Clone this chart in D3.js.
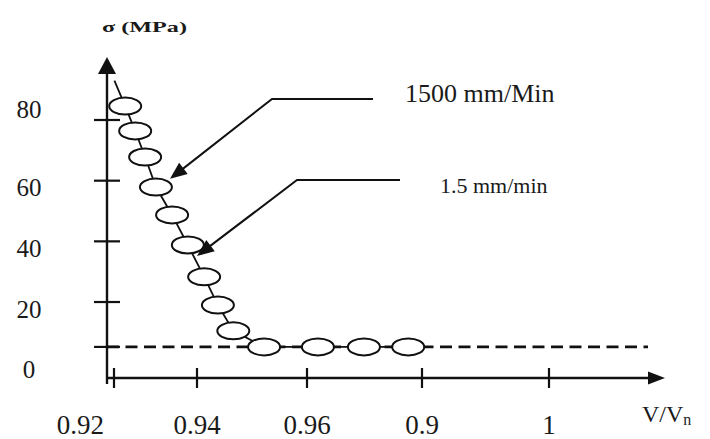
<!DOCTYPE html>
<html>
<head>
<meta charset="utf-8">
<script src="https://cdn.jsdelivr.net/npm/d3@7/dist/d3.min.js"></script>
<style>
  html, body { margin: 0; padding: 0; background: #fff; }
  svg { display: block; }
  text { font-family: "Liberation Serif", "Times New Roman", serif; fill: #1a1a1a; }
</style>
</head>
<body>
<svg id="chart" width="710" height="439"></svg>
<script>
// ---------------- data ----------------
const xTickValues = [0.92, 0.94, 0.96, 0.98, 1.0];
const xTickLabels = ["0.92", "0.94", "0.96", "0.9", "1"];
const yTickValues = [80, 60, 40, 20];
const yLabelValues = [80, 60, 40, 20, 0];

// relative volume V/V0 and stress sigma (MPa) for each marker
const vRatio = [0.9227, 0.9251, 0.9275, 0.9301, 0.9340, 0.9378, 0.9413, 0.9438, 0.9466, 0.9522, 0.9619, 0.9699, 0.9776];
const sigma  = [84.6, 76.4, 67.8, 57.9, 48.7, 38.8, 28.3, 19.0, 10.5, 5.2, 5.2, 5.2, 5.2];
// curve starts at the stress axis
const curveStartV = 0.9201;
const curveStartSigma = 93;
// residual stress level (dashed line)
const residualSigma = 5.2;

// annotations
const annLabels = ["1500 mm/Min", "1.5 mm/min"];
const annTipV = [0.9335, 0.9400];
const annTipSigma = [60.6, 35.2];

// ---------------- layout ----------------
const svg = d3.select("#chart");
const axisX = 107, axisY = 378;

const x = d3.scaleLinear()
  .domain(xTickValues)
  .range([114, 197, 307, 422, 549]);
const y = d3.scaleLinear().domain([0, 80]).range([362.7, 120]);

const ink = "#111";

// dashed residual line
svg.append("line")
  .attr("x1", axisX).attr("x2", 648)
  .attr("y1", y(residualSigma)).attr("y2", y(residualSigma))
  .attr("stroke", ink).attr("stroke-width", 2.6)
  .attr("stroke-dasharray", "12,6.5");

// axes
svg.append("line").attr("x1", axisX).attr("x2", axisX).attr("y1", 72).attr("y2", 384)
  .attr("stroke", ink).attr("stroke-width", 2.4);
svg.append("path").attr("d", `M${axisX},57 L${axisX - 9},74 L${axisX + 9},74 Z`).attr("fill", ink);

svg.append("line").attr("x1", axisX).attr("x2", 650).attr("y1", axisY).attr("y2", axisY)
  .attr("stroke", ink).attr("stroke-width", 2.4);
svg.append("path").attr("d", `M665,${axisY} L648,${axisY - 6.5} L648,${axisY + 6.5} Z`).attr("fill", ink);

// y ticks (including residual level)
svg.selectAll(".ytick").data(yTickValues.concat([residualSigma])).join("line")
  .attr("x1", axisX - 13).attr("x2", axisX + 13)
  .attr("y1", d => y(d)).attr("y2", d => y(d))
  .attr("stroke", ink).attr("stroke-width", 2.2);

// x ticks
svg.selectAll(".xtick").data(xTickValues).join("line")
  .attr("x1", d => x(d)).attr("x2", d => x(d))
  .attr("y1", axisY - 10).attr("y2", axisY + 10)
  .attr("stroke", ink).attr("stroke-width", 2.2);

// y labels (top label sits above its tick, the others just below)
svg.selectAll(".ylab").data(yLabelValues).join("text")
  .attr("x", 29).attr("y", (d, i) => i === 0 ? y(d) - 11 : y(d) + 7)
  .attr("text-anchor", "middle").attr("dominant-baseline", "central")
  .attr("font-size", 25)
  .text(d => d);

// x labels
svg.selectAll(".xlab").data(xTickValues).join("text")
  .attr("x", (d, i) => i === 0 ? x(d) - 10 : x(d))
  .attr("y", 434)
  .attr("text-anchor", (d, i) => i === 0 ? "end" : "middle")
  .attr("font-size", 27)
  .text((d, i) => xTickLabels[i]);

// axis titles
svg.append("text").attr("x", 102).attr("y", 32)
  .attr("font-size", 15).attr("font-weight", "bold")
  .attr("textLength", 85).attr("lengthAdjust", "spacingAndGlyphs")
  .text("σ  (MPa)");

const vt = svg.append("text").attr("x", 642).attr("y", 422).attr("font-size", 24);
vt.append("tspan").text("V/V");
vt.append("tspan").attr("font-size", 16).attr("dy", 3).text("n");

// curve
const pts = [[curveStartV, curveStartSigma]].concat(vRatio.map((v, i) => [v, sigma[i]]));
svg.append("path")
  .attr("d", d3.line().x(d => x(d[0])).y(d => y(d[1]))(pts))
  .attr("fill", "none").attr("stroke", ink).attr("stroke-width", 1.8);

svg.selectAll(".pt").data(vRatio).join("ellipse")
  .attr("cx", d => x(d)).attr("cy", (d, i) => y(sigma[i]))
  .attr("rx", 16).attr("ry", 8.5)
  .attr("fill", "#fff").attr("stroke", ink).attr("stroke-width", 2);

// annotation arrows
const elbows = [[272, 99, 373], [297, 180, 400]];
const labelPos = [[405, 102, 26], [440, 193, 22]];
annLabels.forEach((lab, i) => {
  const [ex, ey, hx] = elbows[i];
  const tx = x(annTipV[i]), ty = y(annTipSigma[i]);
  const dx = tx - ex, dy = ty - ey, len = Math.hypot(dx, dy);
  const ux = dx / len, uy = dy / len;
  const hl = 17, hw = 7;
  const bx = tx - ux * hl, by = ty - uy * hl;
  svg.append("polyline")
    .attr("points", `${hx},${ey} ${ex},${ey} ${bx + ux * 2},${by + uy * 2}`)
    .attr("fill", "none").attr("stroke", ink).attr("stroke-width", 2);
  svg.append("path")
    .attr("d", `M${tx},${ty} L${bx - uy * hw},${by + ux * hw} L${bx + uy * hw},${by - ux * hw} Z`)
    .attr("fill", ink);
  svg.append("text")
    .attr("x", labelPos[i][0]).attr("y", labelPos[i][1])
    .attr("font-size", labelPos[i][2])
    .text(lab);
});
</script>
</body>
</html>
